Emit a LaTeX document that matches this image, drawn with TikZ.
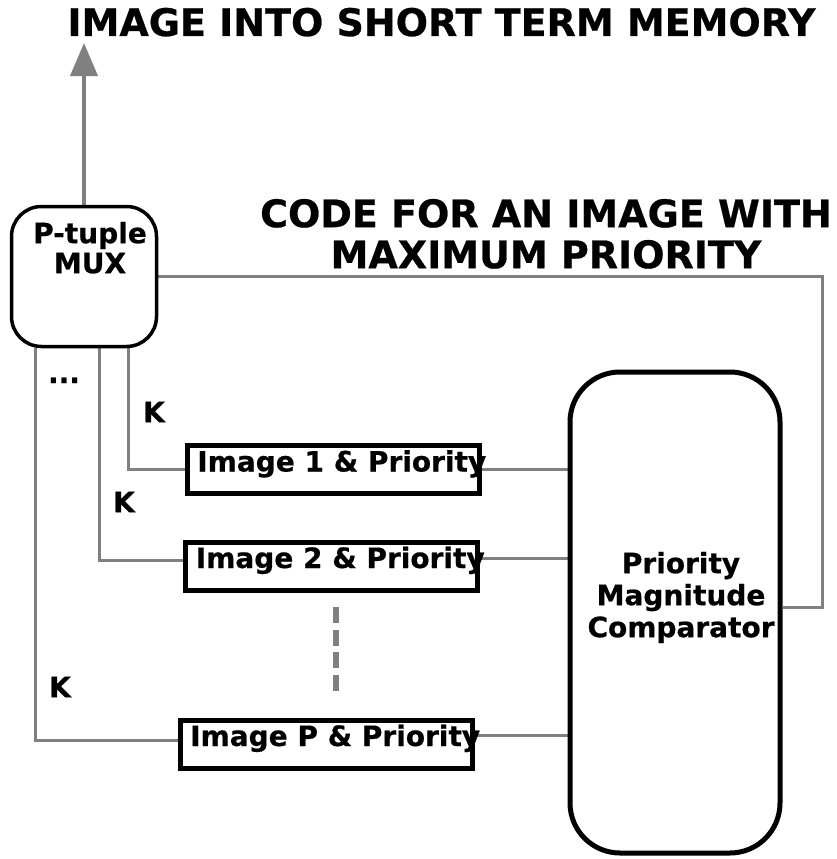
\documentclass[tikz,border=0pt]{standalone}
\usepackage{fontspec}
\setmainfont{DejaVu Sans}[BoldFeatures={FakeBold=0.6}]
\usepackage{tikz}
\usepackage{xcolor}
\usetikzlibrary{arrows.meta,positioning,backgrounds}

\newcommand{\slottext}[1]{\makebox[272pt][l]{#1}}

\begin{document}
\begin{tikzpicture}[x=1pt, y=-1pt,
                font=\bfseries\fontsize{28}{32}\selectfont,
                heading/.style={inner sep=0pt, font=\bfseries\fontsize{38}{41}\selectfont},
                unit/.style={draw, line width=3.5pt, rounded corners=30pt},
                block/.style={draw, line width=5pt, minimum width=292pt, minimum height=48pt,
                              inner xsep=10pt, inner ysep=0pt, text height=21pt, text depth=17pt},
                wire/.style={draw=gray, line width=3pt},
                klabel/.style={inner sep=0pt}]

      \useasboundingbox (0,0) rectangle (837,859);

      \node[heading, anchor=base] (stm) at (441.5,36) {IMAGE INTO SHORT TERM MEMORY};
      \node[heading, anchor=north, align=center] (code) at (546,198.8) {CODE FOR AN IMAGE WITH\\MAXIMUM PRIORITY};

      \node[unit, minimum width=145pt, minimum height=140pt] (mux) at (84,276.5) {};
      \node[inner sep=0pt, anchor=north, align=center, font=\bfseries\fontsize{28}{30}\selectfont] (muxname) at (90,221.7) {P-tuple\\MUX};

      \node[unit, line width=5pt, rounded corners=50pt, minimum width=210pt, minimum height=481pt] (comp) at (675,612.5) {};
      \node[inner sep=0pt, anchor=north, align=center] (compname) at (681,551.7) {Priority\\Magnitude\\Comparator};

      \node[block] (img1) at (333.3,469.5) {\slottext{Image 1 \& Priority}};
      \node[block] (img2) at (331.8,566) {\slottext{Image 2 \& Priority}};
      \node[block] (imgP) at (326.2,744) {\slottext{Image P \& Priority}};

      \node[klabel] (k1) at (154,412) {K};
      \node[klabel] (k2) at (124,502) {K};
      \node[klabel] (kP) at (60,687) {K};
      \node[klabel, anchor=base] (more) at (64,383) {...};

      \coordinate (tip) at (84,43);
      \coordinate (turn) at (822,607);

      \begin{scope}[on background layer]
      \draw[wire, line width=4pt, -{Triangle[width=27pt,length=33pt]}] (mux.north) -- (tip);
      \draw[wire] (mux.east) -| (turn) -- (turn -| comp.east);
      \draw[wire] ([xshift=44pt]mux.south) |- (img1.west);
      \draw[wire] ([xshift=15pt]mux.south) |- ([yshift=6pt]img2.west);
      \draw[wire] ([xshift=-49pt]mux.south) |- ([yshift=4pt]imgP.west);
      \draw[wire] (img1.east) -- (img1.east -| comp.west);
      \draw[wire] ([yshift=8pt]img2.east) -- ([yshift=8pt]img2.east -| comp.west);
      \draw[wire] ([yshift=9pt]imgP.east) -- ([yshift=9pt]imgP.east -| comp.west);
      \end{scope}

      \draw[wire, line width=6pt, dash pattern=on 16pt off 6.5pt] (336,607) -- (336,692);
  \end{tikzpicture}
\end{document}
